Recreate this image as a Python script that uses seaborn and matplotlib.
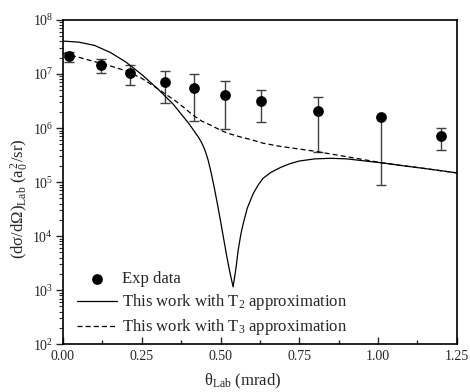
import numpy as np
import pandas as pd
import matplotlib
matplotlib.use("Agg")
import matplotlib.pyplot as plt
import seaborn as sns
from matplotlib.ticker import LogLocator, MultipleLocator, NullFormatter

# Experimental data
exp_theta = [0.02, 0.12, 0.213, 0.324, 0.415, 0.515, 0.627, 0.808, 1.01, 1.20]
exp_value = [2.15e7, 1.47e7, 1.05e7, 7.1e6, 5.6e6, 4.1e6, 3.2e6, 2.1e6, 1.58e6, 7.2e5]
exp_low = [1.70e7, 1.05e7, 6.2e6, 2.86e6, 1.35e6, 9.5e5, 1.31e6, 3.6e5, 8.7e4, 4.0e5]
exp_high = [2.57e7, 1.86e7, 1.45e7, 1.12e7, 9.8e6, 7.3e6, 5.0e6, 3.7e6, 1.58e6, 1.01e6]

# T2 approximation curve (theta, log10 value)
t2_theta = [0.00, 0.05, 0.10, 0.15, 0.20, 0.25, 0.30, 0.35, 0.40, 0.43, 0.44,
            0.45, 0.46, 0.47, 0.48, 0.49, 0.50, 0.51, 0.52, 0.53, 0.54, 0.55,
            0.556, 0.565, 0.572, 0.585, 0.604, 0.62, 0.635, 0.66, 0.69, 0.72,
            0.75, 0.80, 0.85, 0.90, 0.96, 1.02, 1.07, 1.15, 1.25]
t2_log = [7.61, 7.59, 7.53, 7.40, 7.22, 6.99, 6.73, 6.44, 6.08, 5.83, 5.73,
          5.60, 5.42, 5.18, 4.90, 4.60, 4.28, 3.95, 3.62, 3.32, 3.06, 3.45,
          3.74, 4.05, 4.23, 4.52, 4.79, 4.95, 5.07, 5.18, 5.27, 5.34,
          5.39, 5.43, 5.44, 5.43, 5.39, 5.35, 5.31, 5.25, 5.17]

# T3 approximation curve
t3_theta = [0.00, 0.05, 0.10, 0.15, 0.20, 0.25, 0.30, 0.33, 0.36, 0.39, 0.41,
            0.44, 0.47, 0.50, 0.52, 0.56, 0.60, 0.635, 0.69, 0.74, 0.80, 0.85,
            0.90, 0.96, 1.02, 1.07, 1.15, 1.25]
t3_log = [7.38, 7.31, 7.23, 7.15, 7.06, 6.92, 6.73, 6.61, 6.49, 6.35, 6.25,
          6.13, 6.05, 5.96, 5.91, 5.84, 5.78, 5.72, 5.66, 5.62, 5.57, 5.52,
          5.47, 5.41, 5.35, 5.31, 5.25, 5.17]

x_ticks = [0.00, 0.25, 0.50, 0.75, 1.00, 1.25]
x_tick_labels = ["0.00", "0.25", "0.50", "0.75", "1.00", "1.25"]

sns.set_style("ticks")
plt.rcParams["font.family"] = ["Liberation Serif", "DejaVu Serif"]
plt.rcParams["mathtext.fontset"] = "custom"
plt.rcParams["mathtext.rm"] = "Liberation Serif"
plt.rcParams["mathtext.it"] = "Liberation Serif:italic"
plt.rcParams["mathtext.bf"] = "Liberation Serif:bold"

fig = plt.figure(figsize=(4.7, 3.92), dpi=100)
ax = fig.add_axes([0.134, 0.122, 0.838, 0.827])

df_exp = pd.DataFrame({"theta": exp_theta, "value": exp_value})
df_t2 = pd.DataFrame({"theta": t2_theta, "value": np.power(10.0, t2_log)})
df_t3 = pd.DataFrame({"theta": t3_theta, "value": np.power(10.0, t3_log)})

yerr = [np.array(exp_value) - np.array(exp_low), np.array(exp_high) - np.array(exp_value)]
ax.errorbar(exp_theta, exp_value, yerr=yerr, fmt="none",
            ecolor="0.25", elinewidth=1.0, capsize=3.5, capthick=1.0, zorder=2)
sns.scatterplot(data=df_exp, x="theta", y="value", ax=ax, color="black", s=60,
                edgecolor="black", linewidth=0, label="Exp data", zorder=3)
sns.lineplot(data=df_t2, x="theta", y="value", ax=ax, color="black", lw=0.9,
             label="This work with T$_2$ approximation", sort=False)
sns.lineplot(data=df_t3, x="theta", y="value", ax=ax, color="black", lw=0.9,
             linestyle=(0, (4, 2.5)), label="This work with T$_3$ approximation", sort=False)

ax.set_yscale("log")
ax.set_ylim(1e2, 1e8)
ax.set_xlim(0, 1.25)
ax.set_xticks(x_ticks)
ax.set_xticklabels(x_tick_labels)
ax.xaxis.set_minor_locator(MultipleLocator(0.125))
ax.yaxis.set_major_locator(LogLocator(base=10, numticks=10))
ax.yaxis.set_minor_locator(LogLocator(base=10, subs=np.arange(2, 10), numticks=100))
ax.yaxis.set_minor_formatter(NullFormatter())

ax.tick_params(axis="x", which="major", direction="in", length=5, width=1, labelsize=10, pad=4)
ax.tick_params(axis="x", which="minor", direction="in", length=3, width=1)
ax.tick_params(axis="y", which="major", direction="out", length=5, width=1, labelsize=10, pad=2)
ax.tick_params(axis="y", which="minor", direction="out", length=3, width=0.8)
for s in ax.spines.values():
    s.set_linewidth(1.2)
    s.set_color("black")

ax.set_xlabel("θ$_{\\mathrm{Lab}}$ (mrad)", fontsize=12)
ax.xaxis.set_label_coords(0.457, -0.085)
ax.set_ylabel("(dσ/dΩ)$_{\\mathrm{Lab}}$ (a$_0^{\\,2}$/sr)", fontsize=12)
ax.yaxis.set_label_coords(-0.082, 0.45)

leg = ax.legend(loc="lower left", bbox_to_anchor=(0.01, -0.01), frameon=False,
                fontsize=12, handlelength=2.4, handletextpad=0.3, labelspacing=0.3,
                borderaxespad=0.2)

fig.savefig("out.png", dpi=100)
